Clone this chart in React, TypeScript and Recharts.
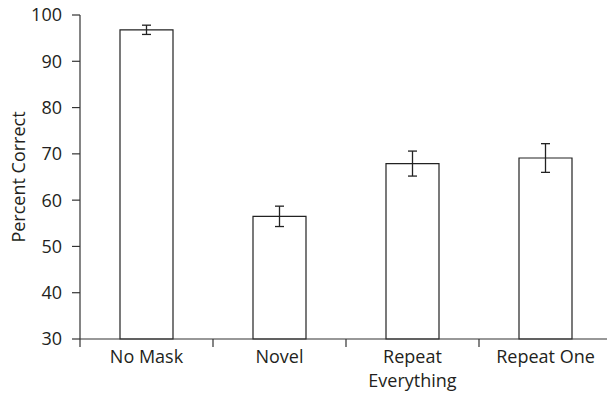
import { BarChart, Bar, XAxis, YAxis, ErrorBar, Label } from "recharts";

const categories = ["No Mask", "Novel", "Repeat\nEverything", "Repeat One"];
const percentCorrect = [96.8, 56.5, 67.9, 69.1];
const errorMargin = [1.0, 2.2, 2.7, 3.1];
const yTicks = [30, 40, 50, 60, 70, 80, 90, 100];

const data = categories.map((name, i) => ({
  name,
  value: percentCorrect[i],
  err: errorMargin[i],
}));

const ink = "#231f20";
const axisColor = "#333";
const font = "'Open Sans', sans-serif";
const TICK = 8;
const GAP = 10;

// category label (may span two lines) plus a tick at the band's left edge
const CategoryTick = (props: any) => {
  const { x, y, payload, width, visibleTicksCount } = props;
  const band = width && visibleTicksCount ? width / visibleTicksCount : 133;
  const lines = String(payload.value).split("\n");
  return (
    <g>
      <line x1={x - band / 2} x2={x - band / 2} y1={y} y2={y + TICK} stroke={axisColor} strokeWidth={1.2} />
      <text x={x} y={y} textAnchor="middle" fill={ink} fontSize={18} fontFamily={font}>
        {lines.map((line, i) => (
          <tspan key={i} x={x} dy={i === 0 ? 24 : 24}>
            {line}
          </tspan>
        ))}
      </text>
    </g>
  );
};

const ValueTick = (props: any) => {
  const { x, y, payload } = props;
  return (
    <g>
      <line x1={x + GAP} x2={x + GAP + TICK} y1={y} y2={y} stroke={axisColor} strokeWidth={1.2} />
      <text x={x} y={y} dy="0.36em" textAnchor="end" fill={ink} fontSize={18} fontFamily={font}>
        {payload.value}
      </text>
    </g>
  );
};

export default function App() {
  return (
    <div style={{ position: "absolute", left: 0, top: 0, width: 607, height: 404, overflow: "hidden", background: "#fff" }}>
      <BarChart
        width={612}
        height={404}
        data={data}
        margin={{ top: 15, right: 0, bottom: 0, left: 0 }}
        barSize={53}
      >
        <XAxis
          dataKey="name"
          interval={0}
          height={65}
          tickLine={false}
          tickSize={0}
          tickMargin={0}
          axisLine={{ stroke: axisColor, strokeWidth: 1.2 }}
          tick={<CategoryTick />}
        />
        <YAxis
          domain={[30, 100]}
          ticks={yTicks}
          width={80}
          tickLine={false}
          tickSize={TICK}
          tickMargin={GAP}
          axisLine={{ stroke: axisColor, strokeWidth: 1.2 }}
          tick={<ValueTick />}
        >
          <Label
            content={({ viewBox }: any) => {
              const cx = viewBox.x + 18;
              const cy = viewBox.y + viewBox.height / 2;
              return (
                <text
                  x={cx}
                  y={cy}
                  transform={`rotate(-90 ${cx} ${cy})`}
                  textAnchor="middle"
                  dominantBaseline="central"
                  fill={ink}
                  fontSize={18}
                  fontFamily={font}
                >
                  Percent Correct
                </text>
              );
            }}
          />
        </YAxis>
        <Bar dataKey="value" fill="#fff" stroke="#222" strokeWidth={1.2} isAnimationActive={false}>
          <ErrorBar dataKey="err" width={4.5} stroke="#222" strokeWidth={1.3} />
        </Bar>
      </BarChart>
    </div>
  );
}
